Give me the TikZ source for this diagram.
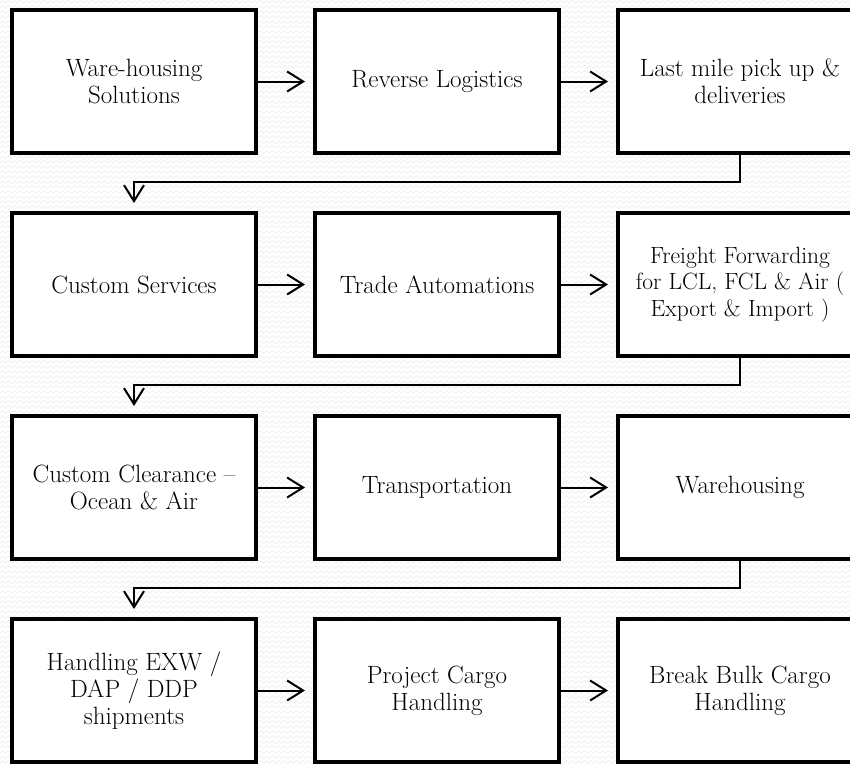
\documentclass[tikz,border=0pt]{standalone}
\usepackage{tikz}
\usetikzlibrary{positioning,arrows.meta,decorations.pathmorphing}

\begin{document}
\begin{tikzpicture}[x=1pt, y=-1pt, node distance={56pt and 55pt},
	box/.style = {draw, line width=4pt, fill=white, minimum width=244pt, minimum height=143pt,
		align=center, inner sep=2pt, font=\fontsize{25}{26.7}\selectfont},
	link/.style = {line width=2pt, -{Straight Barb[length=16pt,width=20pt]}, shorten >=8pt},
	waves/.style = {gray!15, line width=0.5pt, decorate,
		decoration={zigzag, segment length=6pt, amplitude=1.5pt}}]
\useasboundingbox (0,0) rectangle (850,764);
\clip (0,0) rectangle (850,764);
% faint background texture
\foreach \y in {2,7,...,762}
	\draw[waves] (-5,\y) -- (860,\y);

\node[box] (1) at (134,81.5) {Ware-housing\\Solutions};
	\node[box] (2) [right=of 1] {Reverse Logistics};
\node[box] (3) [right=of 2] {Last mile pick up \&\\deliveries};
\node[box] (4) [below=of 1] {Custom Services};
	\node[box] (5) [right=of 4] {Trade Automations};
\node[box, font=\fontsize{23.5}{26.7}\selectfont] (6) [right=of 5] {Freight Forwarding\\for LCL, FCL \& Air (\\Export \& Import )};
\node[box] (7) [below=of 4] {Custom Clearance --\\Ocean \& Air};
	\node[box] (8) [right=of 7] {Transportation};
\node[box] (9) [right=of 8] {Warehousing};
\node[box] (10) [below=of 7] {Handling EXW /\\DAP / DDP\\shipments};
	\node[box] (11) [right=of 10] {Project Cargo\\Handling};
\node[box] (12) [right=of 11] {Break Bulk Cargo\\Handling};

\draw[link] (1) -- (2);
\draw[link] (2) -- (3);
\draw[link] (3.south) -- ++(0,27) -| (4.north);
\draw[link] (4) -- (5);
\draw[link] (5) -- (6);
\draw[link] (6.south) -- ++(0,27) -| (7.north);
\draw[link] (7) -- (8);
\draw[link] (8) -- (9);
\draw[link] (9.south) -- ++(0,27) -| (10.north);
\draw[link] (10) -- (11);
\draw[link] (11) -- (12);
\end{tikzpicture}
\end{document}
